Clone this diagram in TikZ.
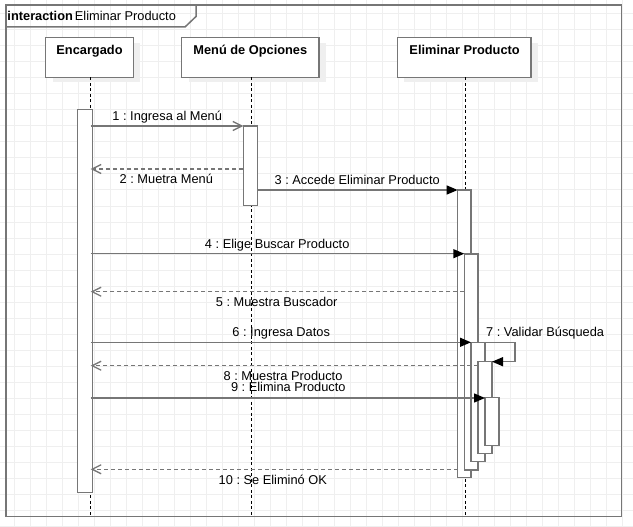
\documentclass[tikz,border=0pt]{standalone}
\usepackage{fontspec}
\setmainfont{Liberation Sans}
\usetikzlibrary{arrows.meta,fit}
\definecolor{gridc}{HTML}{EFEFEF}
\definecolor{linec}{HTML}{767676}
\definecolor{shadowc}{HTML}{EFEFEF}
\frenchspacing
\begin{document}
\begin{tikzpicture}[x=1pt,y=-1pt,
  txt/.style={font=\fontsize{12.8}{14}\selectfont, inner sep=0pt, anchor=base},
  headtxt/.style={txt, font=\fontsize{12.8}{14}\selectfont\bfseries},
  headbox/.style={draw=linec, line width=1.5pt, fill=white, inner sep=0pt},
  actbox/.style={draw=linec, line width=1.4pt, fill=white, inner sep=0pt},
  life/.style={draw=black, line width=0.9pt, dash pattern=on 3pt off 2.5pt},
  syncmsg/.style={draw=linec, line width=1.4pt, -{Triangle[length=11pt,width=9pt,color=black,fill=black]}},
  openmsg/.style={draw=linec, line width=1.3pt, -{Straight Barb[length=9pt,width=9pt]}},
  retmsg/.style={openmsg, dash pattern=on 4pt off 3pt},
]
\useasboundingbox (0,0) rectangle (633,527);
\fill[white] (0,0) rectangle (633,527);
% grid
\foreach \g in {14,30,...,630} {\draw[gridc, line width=1pt] (\g,0) -- (\g,527);}
\foreach \g in {14,30,...,526} {\draw[gridc, line width=1pt] (0,\g) -- (633,\g);}

% frame
\draw[linec, line width=1.5pt] (6,5) rectangle (621.5,516.7);
\draw[linec, line width=1.5pt] (6,27) -- (185,27) -- (196,16.5) -- (196,5);
\node[txt, anchor=base west] (title) at (7.3,21) {\textbf{interaction}\hspace{2pt}Eliminar Producto};

% lifeline heads (shadows first)
\fill[shadowc] (52.7,42.7) rectangle (140.3,82.3);
\fill[shadowc] (188.7,42.7) rectangle (326,82.3);
\fill[shadowc] (404.3,42.7) rectangle (538,82.3);
\node[headbox, fit={(45.7,37.7)(133.3,77.3)}] (enc) {};
\node[headbox, fit={(181.7,37.7)(319,77.3)}] (menu) {};
\node[headbox, fit={(397.3,37.7)(531,77.3)}] (elim) {};
\node[headtxt] (encT) at (89.5,55) {Encargado};
\node[headtxt] (menuT) at (250.3,55) {Menú de Opciones};
\node[headtxt] (elimT) at (464.6,55) {Eliminar Producto};

% message labels
\node[txt] (l1) at (167.2,121) {1 : Ingresa al Menú};
\node[txt] (l2) at (166.3,183) {2 : Muetra Menú};
\node[txt] (l3) at (357.2,184) {3 : Accede Eliminar Producto};
\node[txt] (l4) at (277.2,248) {4 : Elige Buscar Producto};
\node[txt] (l5) at (276.7,306) {5 : Muestra Buscador};
\node[txt] (l6) at (281.2,336) {6 : Ingresa Datos};
\node[txt, anchor=base west] (l7) at (486,336) {7 : Validar Búsqueda};
\node[txt] (l8) at (283,380) {8 : Muestra Producto};
\node[txt] (l9) at (288.3,391.7) {9 : Elimina Producto};
\node[txt] (l10) at (272.8,484) {10 : Se Eliminó OK};

% lifelines
\coordinate (encTop) at (90.7,77.3);  \coordinate (encBot) at (90.7,516.7);
\coordinate (menuTop) at (251.7,77.3); \coordinate (menuBot) at (251.7,516.7);
\coordinate (elimTop) at (465.3,77.3); \coordinate (elimBot) at (465.3,516.7);
\draw[life] (encTop) -- (encBot);
\draw[life] (menuTop) -- (menuBot);
\draw[life] (elimTop) -- (elimBot);

% activations
\node[actbox, fit={(77.7,109.3)(92.7,492.7)}] (aE) {};
\node[actbox, fit={(243.3,126)(257.3,205.7)}] (aM) {};
\node[actbox, fit={(457.7,190)(471,477.7)}] (aP1) {};
\node[actbox, fit={(464.3,254)(478,470)}] (aP2) {};
\node[actbox, fit={(471,342.3)(485,461.7)}] (aP3) {};
\node[actbox, fit={(478,361.7)(492,453.3)}] (aP4) {};
\node[actbox, fit={(485,397.7)(499,445.7)}] (aP5) {};

% message end points
\coordinate (m1a) at (90.7,126);   \coordinate (m1b) at (243.3,126);
\coordinate (m2a) at (243.3,169);  \coordinate (m2b) at (90.7,169);
\coordinate (m3a) at (257.3,190);  \coordinate (m3b) at (457.7,190);
\coordinate (m4a) at (90.7,253.7); \coordinate (m4b) at (464.3,253.7);
\coordinate (m5a) at (464.3,291.7);\coordinate (m5b) at (90.7,291.7);
\coordinate (m6a) at (90.7,342.3); \coordinate (m6b) at (471,342.3);
\coordinate (m7a) at (485,342.3);  \coordinate (m7r) at (515,342.3);
\coordinate (m7s) at (515,361.7);  \coordinate (m7b) at (492,361.7);
\coordinate (m8a) at (478,365.7);  \coordinate (m8b) at (90.7,365.7);
\coordinate (m9a) at (90.7,398);   \coordinate (m9b) at (485,398);
\coordinate (m10a) at (457.7,469.3); \coordinate (m10b) at (90.7,469.3);

% messages
\draw[openmsg] (m1a) -- (m1b);
\draw[retmsg] (m2a) -- (m2b);
\draw[syncmsg] (m3a) -- (m3b);
\draw[syncmsg] (m4a) -- (m4b);
\draw[retmsg] (m5a) -- (m5b);
\draw[syncmsg] (m6a) -- (m6b);
\draw[syncmsg] (m7a) -- (m7r) -- (m7s) -- (m7b);
\draw[retmsg] (m8a) -- (m8b);
\draw[syncmsg] (m9a) -- (m9b);
\draw[retmsg] (m10a) -- (m10b);
\end{tikzpicture}
\end{document}
